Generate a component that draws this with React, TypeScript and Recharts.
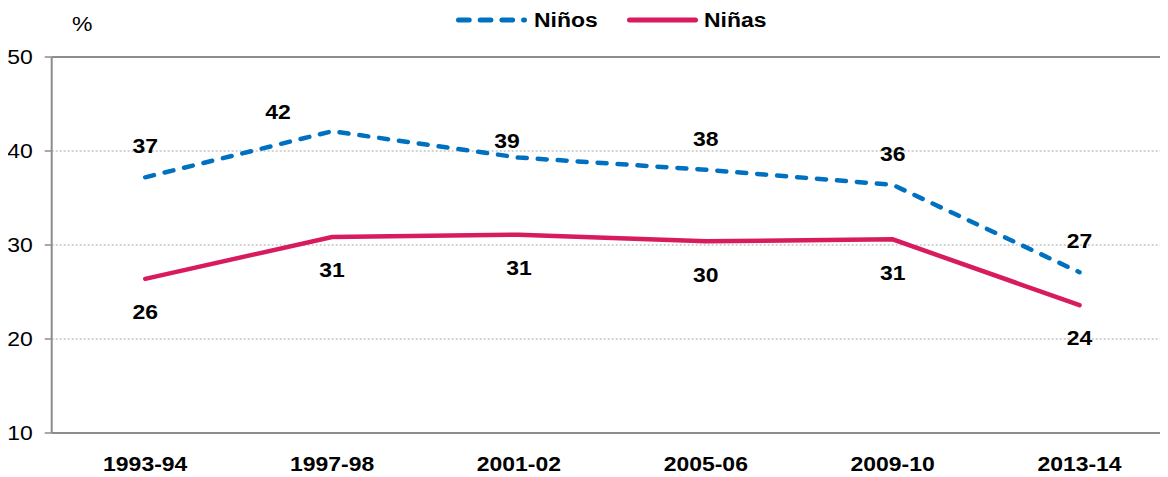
import React from "react";
import {
  LineChart,
  Line,
  XAxis,
  YAxis,
  CartesianGrid,
  ReferenceLine,
  LabelList,
} from "recharts";

const categories = ["1993-94", "1997-98", "2001-02", "2005-06", "2009-10", "2013-14"];
const ninos = [37.2, 42.1, 39.3, 38.0, 36.4, 27.1];
const ninas = [26.4, 30.85, 31.1, 30.4, 30.6, 23.6];
const yTicks = [10, 20, 30, 40, 50];
const edgeTicks = [0, 1, 2, 3, 4, 5, 6];

const data = categories.map((c, i) => ({ cat: c, ninos: ninos[i], ninas: ninas[i] }));

const FONT = "Arial, 'Liberation Sans', Helvetica, sans-serif";
const BLUE = "#0070C0";
const PINK = "#D81B5E";
const AXIS = "#8c8c8c";
const FS = 20.5;
const SX = 1.12;

const STxt = ({ x, y, anchor, dy, bold, children }: any) => (
  <text
    transform={`translate(${x},${y}) scale(${SX},1)`}
    textAnchor={anchor}
    dy={dy}
    fontFamily={FONT}
    fontWeight={bold ? "bold" : "normal"}
    fontSize={FS}
    fill="#000"
  >
    {children}
  </text>
);

// label placement tweaks relative to each point (Excel-style manual placement)
const ninosLabelShift = (i: number): [number, number] => {
  if (i === 1) return [-54, -20];
  if (i === 2) return [-12, -17];
  return [0, -31.5];
};
const ninasLabelShift = (_i: number): [number, number] => [0, 33];

const makeLabel = (shift: (i: number) => [number, number]) => (props: any) => {
  const { x, y, value, index } = props;
  if (x == null || y == null) return null;
  const [dx, dy] = shift(index);
  return (
    <STxt x={x + dx} y={y + dy} anchor="middle" dy="0.355em" bold>
      {Math.round(Number(value))}
    </STxt>
  );
};

const XTick = (p: any) => (
  <STxt x={p.x} y={p.y} anchor="middle" dy="0.71em" bold>
    {p.payload.value}
  </STxt>
);

const YTick = (p: any) => (
  <STxt x={p.x} y={p.y} anchor="end" dy="0.355em">
    {p.payload.value}
  </STxt>
);

export default function App() {
  return (
    <div style={{ position: "relative", width: 1160, height: 469, overflow: "hidden", fontFamily: FONT }}>
      <svg width={1160} height={40} style={{ position: "absolute", left: 0, top: 0 }}>
        <STxt x={64} y={16} anchor="start" dy="0.355em">%</STxt>
        <line x1={450.5} y1={12} x2={516.5} y2={12} stroke={BLUE} strokeWidth={5} strokeDasharray="10.7 11" strokeLinecap="round" />
        <line x1={621.5} y1={12} x2={687.5} y2={12} stroke={PINK} strokeWidth={5} strokeLinecap="round" />
        <STxt x={526} y={12} anchor="start" dy="0.355em" bold>Niños</STxt>
        <STxt x={696} y={12} anchor="start" dy="0.355em" bold>Niñas</STxt>
      </svg>
      <LineChart
        width={1172}
        height={469}
        data={data}
        margin={{ top: 49, right: 7, left: 0, bottom: 14 }}
      >
        <CartesianGrid vertical={false} stroke="#a6a6a6" strokeDasharray="2 2" strokeWidth={1} />
        <XAxis
          xAxisId="edges"
          type="number"
          domain={[0, 6]}
          ticks={edgeTicks}
          tick={false}
          axisLine={false}
          tickLine={{ stroke: AXIS, strokeWidth: 1.5 }}
          tickSize={6}
          height={0}
          allowDataOverflow
        />
        <XAxis
          xAxisId="cat"
          dataKey="cat"
          type="category"
          height={30}
          padding={{ left: 93.5, right: 93.5 }}
          tickLine={false}
          tickSize={0}
          tickMargin={23}
          axisLine={{ stroke: AXIS, strokeWidth: 2 }}
          tick={<XTick />}
          interval={0}
        />
        <YAxis
          domain={[10, 50]}
          ticks={yTicks}
          width={43.7}
          tickSize={7}
          tickMargin={12}
          axisLine={{ stroke: AXIS, strokeWidth: 2 }}
          tickLine={{ stroke: AXIS, strokeWidth: 1.5 }}
          tick={<YTick />}
          interval={0}
        />
        <ReferenceLine y={50} xAxisId="cat" stroke={AXIS} strokeWidth={2} />
        <Line
          xAxisId="cat"
          type="linear"
          dataKey="ninos"
          stroke={BLUE}
          strokeWidth={4.5}
          strokeDasharray="9 11"
          strokeLinecap="round"
          dot={false}
          activeDot={false}
          isAnimationActive={false}
        >
          <LabelList dataKey="ninos" content={makeLabel(ninosLabelShift)} />
        </Line>
        <Line
          xAxisId="cat"
          type="linear"
          dataKey="ninas"
          stroke={PINK}
          strokeWidth={4.5}
          strokeLinecap="round"
          dot={false}
          activeDot={false}
          isAnimationActive={false}
        >
          <LabelList dataKey="ninas" content={makeLabel(ninasLabelShift)} />
        </Line>
      </LineChart>
    </div>
  );
}
